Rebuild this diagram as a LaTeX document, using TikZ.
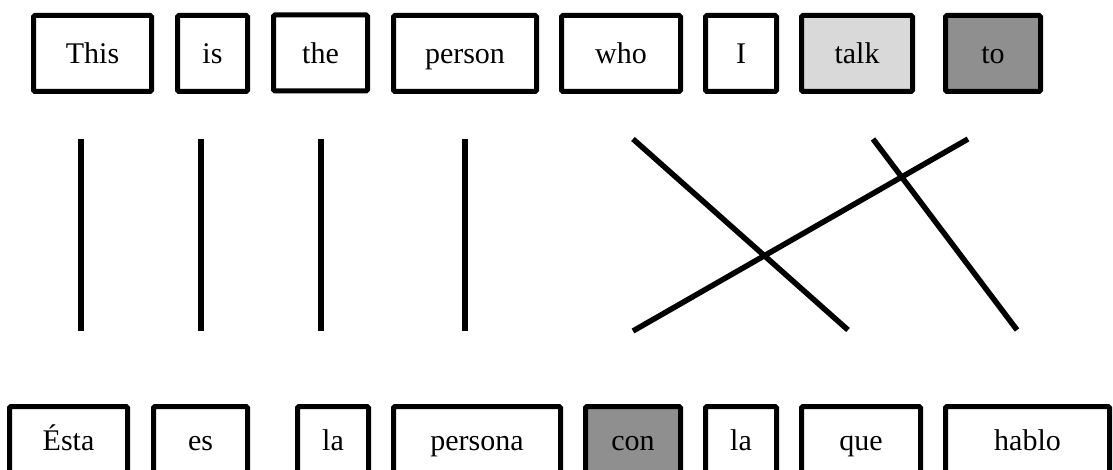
\documentclass[tikz,border=0pt]{standalone}
\usepackage{fontspec}
\setmainfont{Liberation Serif}
\definecolor{lightfill}{HTML}{D9D9D9}
\definecolor{darkfill}{HTML}{8F8F8F}
\begin{document}
\begin{tikzpicture}[x=1pt,y=-1pt,
  word/.style={draw=black, line width=5pt, rounded corners=1.5pt, fill=white,
    minimum height=76pt, inner sep=0pt, font=\fontsize{30}{36}\selectfont, text=black},
  topword/.style={word, text height=28pt, text depth=7pt},
  botword/.style={word, text height=20pt, text depth=9pt},
  link/.style={line width=5.5pt, line cap=butt}]
\useasboundingbox (0,0) rectangle (1113,470);
\clip (0,0) rectangle (1113,470);
% top row
\node[topword, minimum width=118pt] (t1) at (92.5,53.5) {This};
\node[topword, minimum width=70pt] (t2) at (212.5,53.5) {is};
\node[topword, minimum width=94pt] (t3) at (320.5,53) {the};
\node[topword, minimum width=143pt] (t4) at (465,53.5) {person};
\node[topword, minimum width=119pt] (t5) at (621,53.5) {who};
\node[topword, minimum width=71pt] (t6) at (741,53.5) {I};
\node[topword, minimum width=111pt, fill=lightfill] (t7) at (857,53.5) {talk};
\node[topword, minimum width=95pt, fill=darkfill] (t8) at (993,53.5) {to};
% bottom row
\node[botword, minimum width=118pt] (b1) at (68.5,444.5) {Ésta};
\node[botword, minimum width=94pt] (b2) at (200.5,444.5) {es};
\node[botword, minimum width=71pt] (b3) at (333,444.5) {la};
\node[botword, minimum width=167pt] (b4) at (477,444.5) {persona};
\node[botword, minimum width=95pt, fill=darkfill] (b5) at (633,444.5) {con};
\node[botword, minimum width=71pt] (b6) at (741,444.5) {la};
\node[botword, minimum width=119pt] (b7) at (861,444.5) {que};
\node[botword, minimum width=164pt] (b8) at (1027.5,444.5) {hablo};
% alignment link end points
\coordinate (u1) at (81,139);  \coordinate (d1) at (81,331);
\coordinate (u2) at (201,139); \coordinate (d2) at (201,331);
\coordinate (u3) at (321,139); \coordinate (d3) at (321,331);
\coordinate (u4) at (465,139); \coordinate (d4) at (465,331);
\coordinate (u5) at (633,139); \coordinate (d5) at (848,330);
\coordinate (u6) at (968,139); \coordinate (d6) at (633,331);
\coordinate (u7) at (873,139); \coordinate (d7) at (1017,330);
\draw[link] (u1) -- (d1);
\draw[link] (u2) -- (d2);
\draw[link] (u3) -- (d3);
\draw[link] (u4) -- (d4);
\draw[link] (u5) -- (d5);
\draw[link] (u6) -- (d6);
\draw[link] (u7) -- (d7);
\end{tikzpicture}
\end{document}
